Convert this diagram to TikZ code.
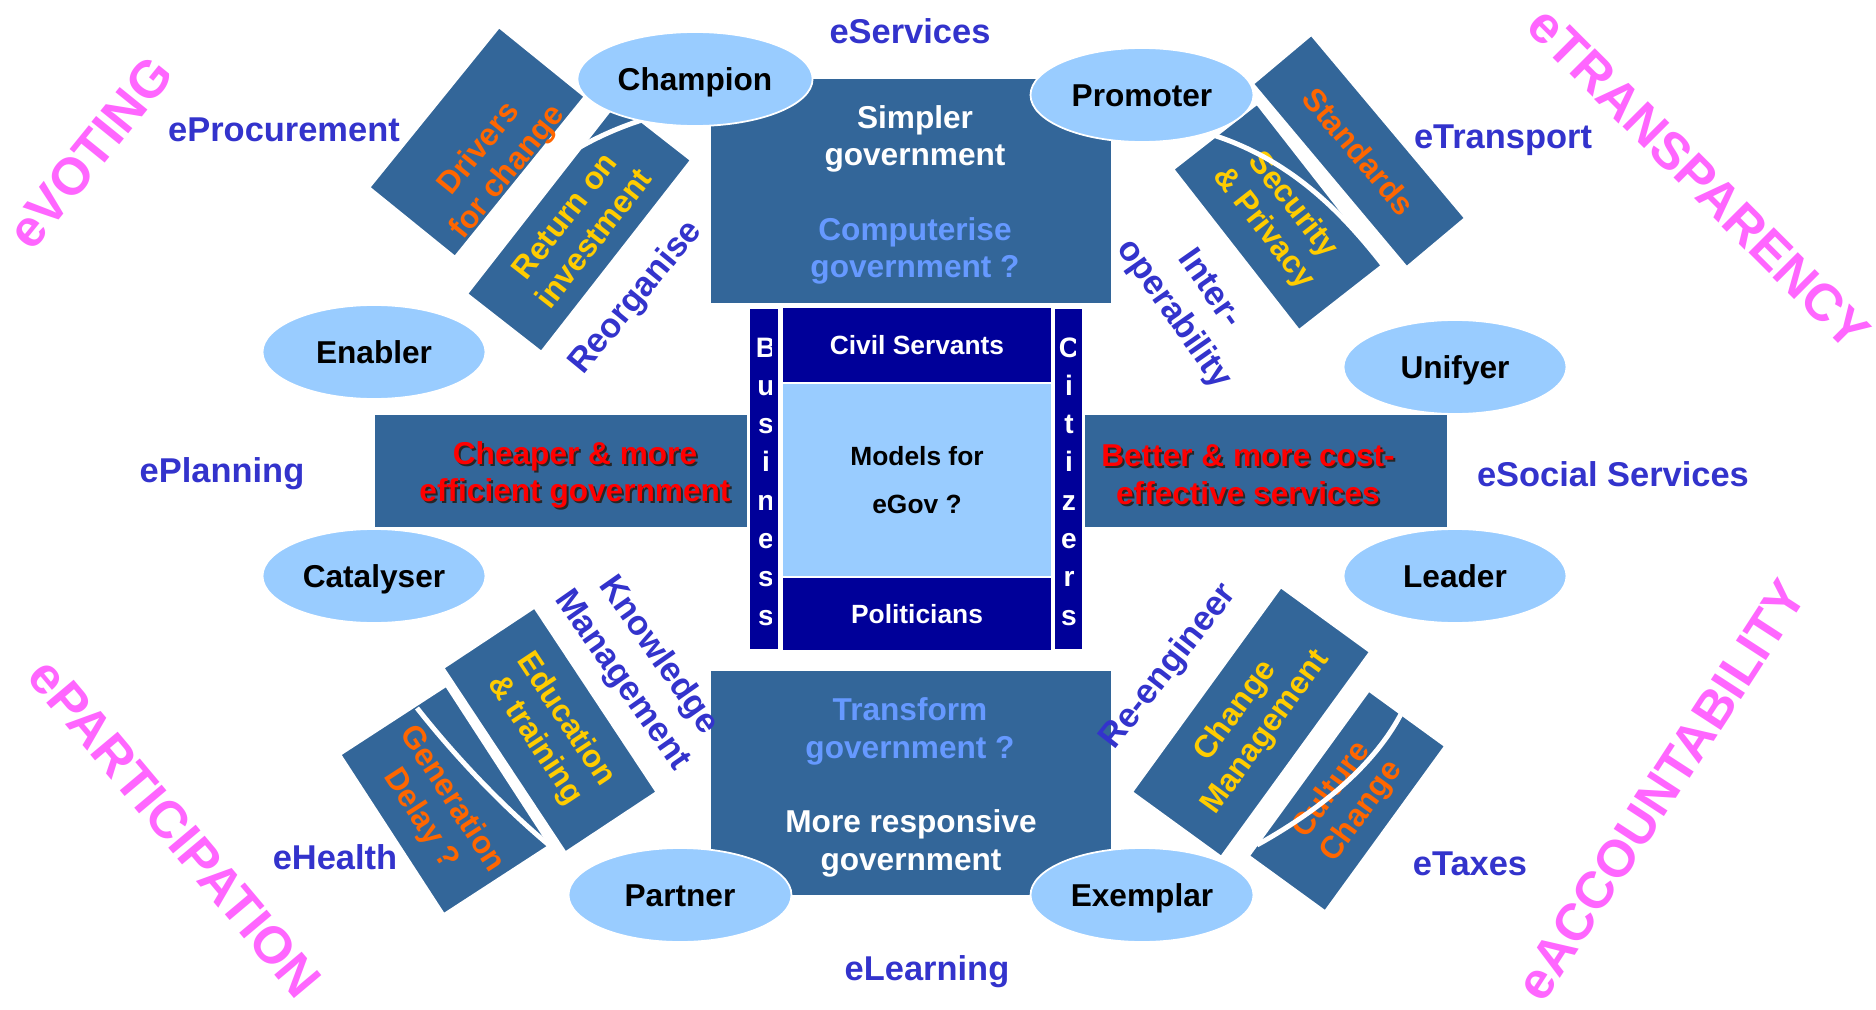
\documentclass[tikz,border=0pt]{standalone}
\usepackage{fontspec}
\setmainfont{Liberation Sans}
\usetikzlibrary{shapes.geometric,positioning}
\definecolor{boxblue}{HTML}{336699}
\definecolor{paleblue}{HTML}{99CCFF}
\definecolor{govnavy}{HTML}{000099}
\definecolor{ink}{HTML}{3333CC}
\definecolor{pinkish}{HTML}{FF66FF}
\definecolor{softblue}{HTML}{6699FF}
\definecolor{orangey}{HTML}{FF6600}
\definecolor{gold}{HTML}{FFCC00}
\tikzstyle{govbox}=[fill=boxblue,inner sep=0pt,outer sep=0pt]
\tikzstyle{boxtext}=[align=center,font=\fontsize{18}{21.5}\selectfont\bfseries]
\tikzstyle{tilt}=[fill=boxblue,draw=white,line width=2.2pt,inner sep=0pt,
  align=center,font=\fontsize{18}{21}\selectfont\bfseries]
\tikzstyle{tilttext}=[align=center,font=\fontsize{18}{21}\selectfont\bfseries]
\tikzstyle{role}=[ellipse,fill=paleblue,draw=white,line width=1pt,
  minimum width=4.46cm,minimum height=1.88cm,text height=12.9pt,text depth=0pt,
  font=\fontsize{18}{21}\selectfont\bfseries]
\tikzstyle{etext}=[text=ink,font=\fontsize{19.6}{25}\selectfont\bfseries]
\tikzstyle{action}=[etext,align=center]
\tikzstyle{theme}=[text=pinkish,font=\fontsize{29.6}{34}\selectfont\bfseries]
\tikzstyle{cell}=[fill=govnavy,draw=white,line width=0.6pt,inner sep=0pt,
  outer sep=0pt,text=white,font=\fontsize{15}{18}\selectfont\bfseries]
\tikzstyle{vchar}=[text=white,anchor=base,inner sep=0pt,
  font=\fontsize{16}{18}\selectfont\bfseries]
\tikzstyle{cut}=[white,line width=2.8pt]

\begin{document}
\begin{tikzpicture}[x=0.02cm, y=-0.02cm]
  \useasboundingbox (0,0) rectangle (1876,1010);

  % tilted boxes, back one first
  \node[tilt, minimum width=4.9cm, minimum height=1.92cm, rotate=52,
    text=gold] (return) at (579,227) {Return on\\investment};
  \node[tilt, minimum width=4.16cm, minimum height=2.24cm, rotate=51] (drivers)
    at (477,142) {};
  \node[tilttext, rotate=51, text=orangey] (driverstext) at (494,161)
    {Drivers\\for change};
  \draw[cut] (548,168) .. controls (575,148) and (605,132) .. (642,120);

  \node[tilt, minimum width=4.12cm, minimum height=2.16cm, rotate=-52,
    text=gold] (security) at (1278,217) {Security\\\& Privacy};
  \node[tilt, minimum width=4.82cm, minimum height=1.56cm, rotate=-50,
    text=orangey] (standards) at (1359,151) {Standards};
  \draw[cut] (1213,135) .. controls (1290,160) and (1340,210) .. (1383,265);

  \node[tilt, minimum width=3.84cm, minimum height=2.56cm, rotate=-57] (generation)
    at (445,800) {};
  \node[tilttext, rotate=-57, text=orangey] (generationtext) at (436,809)
    {Generation\\Delay ?};
  \node[tilt, minimum width=4.46cm, minimum height=2.22cm, rotate=-56.5,
    text=gold] (education) at (550,730) {Education\\\& training};
  \draw[cut] (417,708) .. controls (450,750) and (500,805) .. (555,850);

  \node[tilt, minimum width=5.1cm, minimum height=2.24cm, rotate=54,
    text=gold] (change) at (1251,722) {Change\\Management};
  \node[tilt, minimum width=4.12cm, minimum height=1.92cm, rotate=54,
    text=orangey] (culture) at (1347,801) {Culture\\Change};
  \draw[cut] (1257,845) .. controls (1320,810) and (1375,765) .. (1402,712);

  % government boxes and bars
  \node[govbox, minimum width=8cm, minimum height=4.48cm] (topbox) at (911,191) {};
  \node[govbox, minimum width=8cm, minimum height=4.48cm] (botbox) at (911,783) {};
  \node[govbox, minimum width=7.44cm, minimum height=2.24cm] (leftbar) at (561,471) {};
  \node[govbox, minimum width=7.24cm, minimum height=2.24cm] (rightbar) at (1266,471) {};

  \node[boxtext, text=white] (simpler) at (915,139) {Simpler\\government};
  \node[boxtext, text=softblue] (computerise) at (915,251) {Computerise\\government ?};
  \node[boxtext, text=softblue] (transform) at (910,731) {Transform\\government ?};
  \node[boxtext, text=white] (responsive) at (911,843) {More responsive\\government};

  \node[boxtext, text=black!85] (cheapershade) at (577,477) {Cheaper \& more\\efficient government};
  \node[boxtext, text=red] (cheaper) at (575,475) {Cheaper \& more\\efficient government};
  \node[boxtext, text=black!85] (bettershade) at (1250,477) {Better \& more cost-\\effective services};
  \node[boxtext, text=red] (better) at (1248,475) {Better \& more cost-\\effective services};

  % central stack
  \node[cell, fill=paleblue, text=black, minimum width=5.4cm, minimum height=3.88cm,
    align=center, font=\fontsize{15}{27}\selectfont\bfseries] (models) at (917,480)
    {Models for\\eGov ?};
  \node[cell, minimum width=5.4cm, minimum height=1.52cm, above=0pt of models] (civil)
    {Civil Servants};
  \node[cell, minimum width=5.4cm, minimum height=1.48cm, below=0pt of models] (politicians)
    {Politicians};
  \node[cell, minimum width=0.6cm, minimum height=6.84cm] (business) at (764,479) {};
  \node[cell, minimum width=0.58cm, minimum height=6.84cm] (citizens) at (1068.5,479) {};
  \begin{scope}
    \clip (749,300) rectangle (771,660);
    \foreach \ch [count=\i from 0] in {B,u,s,i,n,e,s,s}
      \node[vchar] at (766,{357+38.3*\i}) {\ch};
  \end{scope}
  \begin{scope}
    \clip (1054,300) rectangle (1075,660);
    \foreach \ch [count=\i from 0] in {C,i,t,i,z,e,r,s}
      \node[vchar] at (1069,{357+38.3*\i}) {\ch};
  \end{scope}

  % roles
  \node[role] (champion) at (695,79) {Champion};
  \node[role] (promoter) at (1142,95) {Promoter};
  \node[role] (enabler) at (374,352) {Enabler};
  \node[role] (unifyer) at (1455,367) {Unifyer};
  \node[role] (catalyser) at (374,576) {Catalyser};
  \node[role] (leader) at (1455,576) {Leader};
  \node[role] (partner) at (680,895) {Partner};
  \node[role] (exemplar) at (1142,895) {Exemplar};

  % e-services
  \node[etext] (eservices) at (910,31) {eServices};
  \node[etext] (eprocurement) at (284,130) {eProcurement};
  \node[etext] (etransport) at (1503,140) {eTransport};
  \node[etext] (eplanning) at (222,474) {ePlanning};
  \node[etext] (esocial) at (1613,474) {eSocial Services};
  \node[etext] (ehealth) at (335,857) {eHealth};
  \node[etext] (elearning) at (927,972) {eLearning};
  \node[etext] (etaxes) at (1470,864) {eTaxes};

  \node[action, rotate=50.5] (reorganise) at (636,298) {Reorganise};
  \node[action, rotate=-55] (interop) at (1191,302) {Inter-\\operability};
  \node[action, rotate=-55] (knowledge) at (640,668) {Knowledge\\Management};
  \node[action, rotate=52] (reengineer) at (1169,667) {Re-engineer};

  % themes
  \node[theme, rotate=51] (evoting) at (90,153) {eVOTING};
  \node[theme, rotate=-45] (etransparency) at (1699,178) {eTRANSPARENCY};
  \node[theme, rotate=-50] (eparticipation) at (175,828) {ePARTICIPATION};
  \node[theme, rotate=57] (eaccountability) at (1661,790) {eACCOUNTABILITY};
\end{tikzpicture}
\end{document}
